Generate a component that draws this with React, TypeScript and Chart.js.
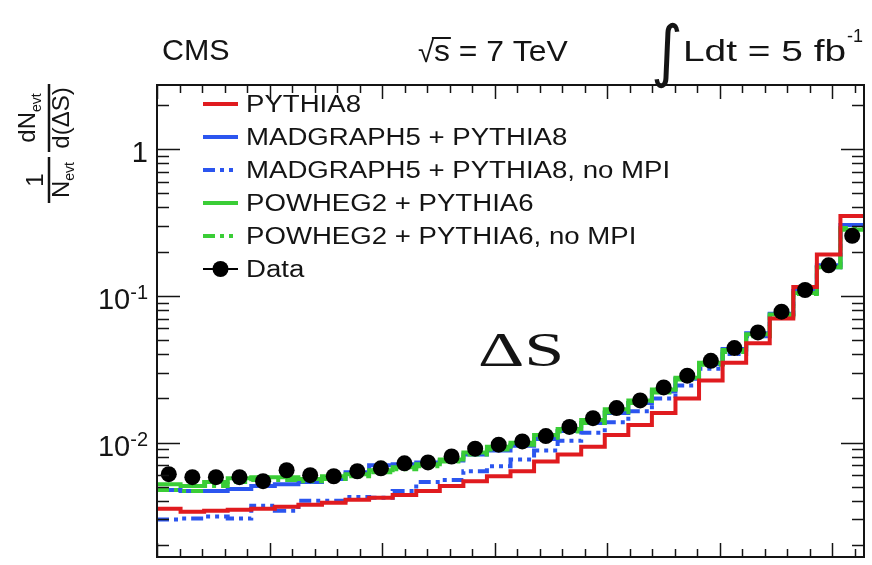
import React, { useEffect, useRef } from "react";
import { Chart, registerables } from "chart.js";
Chart.register(...registerables);

// ---- axis ranges ----
const NBINS = 30;
const X_MIN = 0;
const X_MAX = Math.PI;
const Y_MIN = 0.001665;
const Y_MAX = 2.731;

// ---- series (per bin of ΔS) ----
const pythia8 = [0.00355, 0.00339, 0.00344, 0.0035, 0.00355, 0.00366, 0.00378, 0.0039, 0.00408, 0.00421, 0.00441, 0.00469, 0.00507, 0.00547, 0.00591, 0.00639, 0.00746, 0.00831, 0.0094, 0.0113, 0.0132, 0.0159, 0.02, 0.0265, 0.035, 0.0476, 0.0701, 0.1149, 0.1913, 0.3497];
const madgraph = [0.00476, 0.00469, 0.00469, 0.00484, 0.00507, 0.00522, 0.00539, 0.00565, 0.00629, 0.00701, 0.00712, 0.00734, 0.00757, 0.00831, 0.00884, 0.00955, 0.0106, 0.012, 0.0136, 0.0159, 0.0186, 0.0223, 0.0273, 0.0344, 0.0434, 0.0556, 0.0757, 0.108, 0.1615, 0.3042];
const madgraphNoMPI = [0.003, 0.00304, 0.00314, 0.00304, 0.00372, 0.00344, 0.00402, 0.00402, 0.00427, 0.00421, 0.00469, 0.00539, 0.00556, 0.00639, 0.0069, 0.00769, 0.00884, 0.0103, 0.0117, 0.0138, 0.0164, 0.02, 0.0245, 0.0319, 0.0402, 0.0531, 0.0746, 0.1047, 0.1565, 0.3042];
const powheg = [0.00522, 0.00507, 0.00539, 0.00573, 0.00582, 0.00582, 0.00565, 0.00591, 0.0061, 0.00649, 0.0068, 0.00712, 0.00769, 0.00857, 0.0094, 0.01, 0.0113, 0.0124, 0.0143, 0.0169, 0.0194, 0.023, 0.0277, 0.035, 0.0428, 0.0547, 0.0746, 0.1047, 0.1565, 0.2817];
const powhegNoMPI = [0.00476, 0.00469, 0.00507, 0.00539, 0.00556, 0.00556, 0.00547, 0.00565, 0.00591, 0.00629, 0.00659, 0.0069, 0.00746, 0.00831, 0.00897, 0.0097, 0.0108, 0.0119, 0.0136, 0.0161, 0.0186, 0.022, 0.0269, 0.0339, 0.0414, 0.0531, 0.0723, 0.1031, 0.1565, 0.2905];
const dataValues = [0.0061, 0.00582, 0.00582, 0.00582, 0.00547, 0.00649, 0.00601, 0.00591, 0.00639, 0.00669, 0.00723, 0.00734, 0.00805, 0.00911, 0.0097, 0.0102, 0.0111, 0.0128, 0.0147, 0.0172, 0.0194, 0.0238, 0.0286, 0.0361, 0.0441, 0.0564, 0.0781, 0.1097, 0.1615, 0.2566];

const seriesLabels = [
  "PYTHIA8",
  "MADGRAPH5 + PYTHIA8",
  "MADGRAPH5 + PYTHIA8, no MPI",
  "POWHEG2 + PYTHIA6",
  "POWHEG2 + PYTHIA6, no MPI",
  "Data",
];

// y tick labels: value, base, exponent
const yTickValues = [1, 0.1, 0.01];
const yTickBases = ["1", "10", "10"];
const yTickExps = ["", "-1", "-2"];

const RED = "#e01b1f";
const BLUE = "#2b55ef";
const GREEN = "#3acd36";
const INK = "#141414";
const DASHDOT = [12, 5, 4, 5, 4, 5];
const SANS = "'Liberation Sans'";

function txt(ctx: CanvasRenderingContext2D, s: string, x: number, y: number, font: string, align = "left", sx = 1) {
  ctx.save();
  ctx.font = font;
  ctx.textAlign = "left";
  ctx.textBaseline = "alphabetic";
  const w = ctx.measureText(s).width * sx;
  let x0 = x;
  if (align === "right") x0 = x - w;
  else if (align === "center") x0 = x - w / 2;
  ctx.translate(x0, y);
  ctx.scale(sx, 1);
  ctx.fillText(s, 0, 0);
  ctx.restore();
  return w;
}

const decorPlugin = {
  id: "decor",
  afterDraw(chart: any) {
    const ctx: CanvasRenderingContext2D = chart.ctx;
    const { left, right, top, bottom } = chart.chartArea;
    const xs = chart.scales.x;
    const ys = chart.scales.y;
    ctx.save();
    ctx.fillStyle = INK;
    ctx.strokeStyle = INK;

    // frame
    ctx.lineWidth = 2;
    ctx.strokeRect(left, top, right - left, bottom - top);

    // x ticks (inward, top & bottom)
    ctx.lineWidth = 1.5;
    for (let k = 0; k * 0.1 <= X_MAX + 1e-9; k++) {
      const px = Math.round(xs.getPixelForValue(k * 0.1)) + 0.5;
      const len = k % 5 === 0 ? 14 : 8;
      ctx.beginPath();
      ctx.moveTo(px, bottom);
      ctx.lineTo(px, bottom - len);
      ctx.moveTo(px, top);
      ctx.lineTo(px, top + len);
      ctx.stroke();
    }
    // y ticks (log)
    for (let e = -3; e <= 0; e++) {
      for (let m = 1; m <= 9; m++) {
        const v = m * Math.pow(10, e);
        if (v <= Y_MIN || v >= Y_MAX) continue;
        const py = Math.round(ys.getPixelForValue(v)) + 0.5;
        const len = m === 1 ? 23 : 12;
        ctx.beginPath();
        ctx.moveTo(left, py);
        ctx.lineTo(left + len, py);
        ctx.moveTo(right, py);
        ctx.lineTo(right - len, py);
        ctx.stroke();
      }
    }

    // y tick labels
    yTickValues.forEach((v, i) => {
      const py = ys.getPixelForValue(v);
      const rightX = 148;
      if (yTickExps[i]) {
        const sw = txt(ctx, yTickExps[i], rightX, py + 3, `20px ${SANS}`, "right");
        txt(ctx, yTickBases[i], rightX - sw, py + 13, `29px ${SANS}`, "right");
      } else {
        txt(ctx, yTickBases[i], rightX, py + 13, `29px ${SANS}`, "right");
      }
    });

    // y-axis title (rotated fraction)
    ctx.save();
    ctx.translate(49, 205);
    ctx.rotate(-Math.PI / 2);
    ctx.lineWidth = 2.5;
    ctx.beginPath();
    ctx.moveTo(2, 0);
    ctx.lineTo(48, 0);
    ctx.moveTo(53, 0);
    ctx.lineTo(121, 0);
    ctx.stroke();
    // 1 / N_evt
    txt(ctx, "1", 25, -6, `24px ${SANS}`, "center");
    {
      ctx.font = `24px ${SANS}`;
      const wN = ctx.measureText("N").width;
      ctx.font = `14px ${SANS}`;
      const wS = ctx.measureText("evt").width;
      const x0 = 25 - (wN + wS) / 2;
      txt(ctx, "N", x0, 20, `24px ${SANS}`);
      txt(ctx, "evt", x0 + wN, 25, `14px ${SANS}`);
    }
    // dN_evt / d(ΔS)
    {
      ctx.font = `24px ${SANS}`;
      const wN = ctx.measureText("dN").width;
      ctx.font = `14px ${SANS}`;
      const wS = ctx.measureText("evt").width;
      const x0 = 87 - (wN + wS) / 2;
      txt(ctx, "dN", x0, -14, `24px ${SANS}`);
      txt(ctx, "evt", x0 + wN, -8, `14px ${SANS}`);
    }
    txt(ctx, "d(ΔS)", 87, 20, `24px ${SANS}`, "center");
    ctx.restore();

    // header
    txt(ctx, "CMS", 162, 60, `29px ${SANS}`, "left", 1.05);
    {
      const wr = txt(ctx, "√", 418, 62, `29px ${SANS}`);
      ctx.font = `29px ${SANS}`;
      const wsS = ctx.measureText("s").width * 1.1;
      txt(ctx, "s = 7 TeV", 418 + wr, 61, `29px ${SANS}`, "left", 1.1);
      ctx.lineWidth = 2;
      ctx.beginPath();
      ctx.moveTo(418 + wr - 2, 38);
      ctx.lineTo(418 + wr + wsS + 1, 38);
      ctx.stroke();
    }
    txt(ctx, "∫", 651, 74, `68px 'DejaVu Sans'`, "left", 0.9);
    const wl = txt(ctx, "Ldt = 5 fb", 683, 61, `29px ${SANS}`, "left", 1.34);
    txt(ctx, "-1", 683 + wl + 1, 42, `18px ${SANS}`);

    // ΔS label
    txt(ctx, "ΔS", 478, 366, `48px 'Liberation Serif'`, "left", 1.5);

    // legend
    const ds = chart.data.datasets;
    ds.forEach((d: any, i: number) => {
      const cy = 104 + i * 33;
      ctx.save();
      if (d.showLine === false) {
        ctx.strokeStyle = "#000";
        ctx.lineWidth = 2;
        ctx.beginPath();
        ctx.moveTo(203, cy);
        ctx.lineTo(238, cy);
        ctx.stroke();
        ctx.fillStyle = "#000";
        ctx.beginPath();
        ctx.arc(220.5, cy, 8, 0, Math.PI * 2);
        ctx.fill();
      } else {
        ctx.strokeStyle = d.borderColor;
        ctx.lineWidth = 4;
        ctx.setLineDash(d.borderDash || []);
        ctx.beginPath();
        ctx.moveTo(203, cy);
        ctx.lineTo(238, cy);
        ctx.stroke();
      }
      ctx.restore();
      ctx.fillStyle = INK;
      txt(ctx, d.label, 246, cy + 8, `23px ${SANS}`, "left", 1.2);
    });

    ctx.restore();
  },
};

export default function App() {
  const ref = useRef<HTMLCanvasElement>(null);
  useEffect(() => {
    const canvas = ref.current!;
    const bw = (X_MAX - X_MIN) / NBINS;
    const edges = Array.from({ length: NBINS + 1 }, (_, i) => X_MIN + i * bw);
    const step = (vals: number[]) => edges.map((e, i) => ({ x: e, y: vals[Math.min(i, vals.length - 1)] }));
    const centers = dataValues.map((v, i) => ({ x: X_MIN + (i + 0.5) * bw, y: v }));
    const hist = (label: string, vals: number[], color: string, dash: number[] | undefined, order: number) => ({
      label,
      data: step(vals),
      borderColor: color,
      backgroundColor: color,
      borderWidth: 4,
      borderDash: dash,
      pointRadius: 0,
      stepped: true,
      fill: false,
      order,
    });
    const chart = new Chart(canvas, {
      type: "line",
      data: {
        datasets: [
          hist(seriesLabels[0], pythia8, RED, undefined, 1),
          hist(seriesLabels[1], madgraph, BLUE, undefined, 5),
          hist(seriesLabels[2], madgraphNoMPI, BLUE, DASHDOT, 4),
          hist(seriesLabels[3], powheg, GREEN, undefined, 3),
          hist(seriesLabels[4], powhegNoMPI, GREEN, DASHDOT, 2),
          {
            label: seriesLabels[5],
            data: centers,
            showLine: false,
            pointRadius: 8,
            pointBackgroundColor: "#000",
            pointBorderColor: "#000",
            pointBorderWidth: 0,
            borderColor: "#000",
            order: 0,
          } as any,
        ],
      },
      options: {
        responsive: false,
        animation: false,
        devicePixelRatio: 1,
        layout: { padding: { left: 157, right: 6, top: 85, bottom: 1 } },
        plugins: { legend: { display: false }, tooltip: { enabled: false } },
        scales: {
          x: { type: "linear", min: X_MIN, max: X_MAX, display: false, bounds: "data" },
          y: { type: "logarithmic", min: Y_MIN, max: Y_MAX, display: false, bounds: "data" },
        },
        elements: { line: { tension: 0 } },
      } as any,
      plugins: [decorPlugin],
    });
    return () => chart.destroy();
  }, []);
  return (
    <div style={{ position: "fixed", left: 0, top: 0, width: 872, height: 565, background: "#fff" }}>
      <canvas ref={ref} width={872} height={565} style={{ display: "block", width: 872, height: 565 }} />
    </div>
  );
}
